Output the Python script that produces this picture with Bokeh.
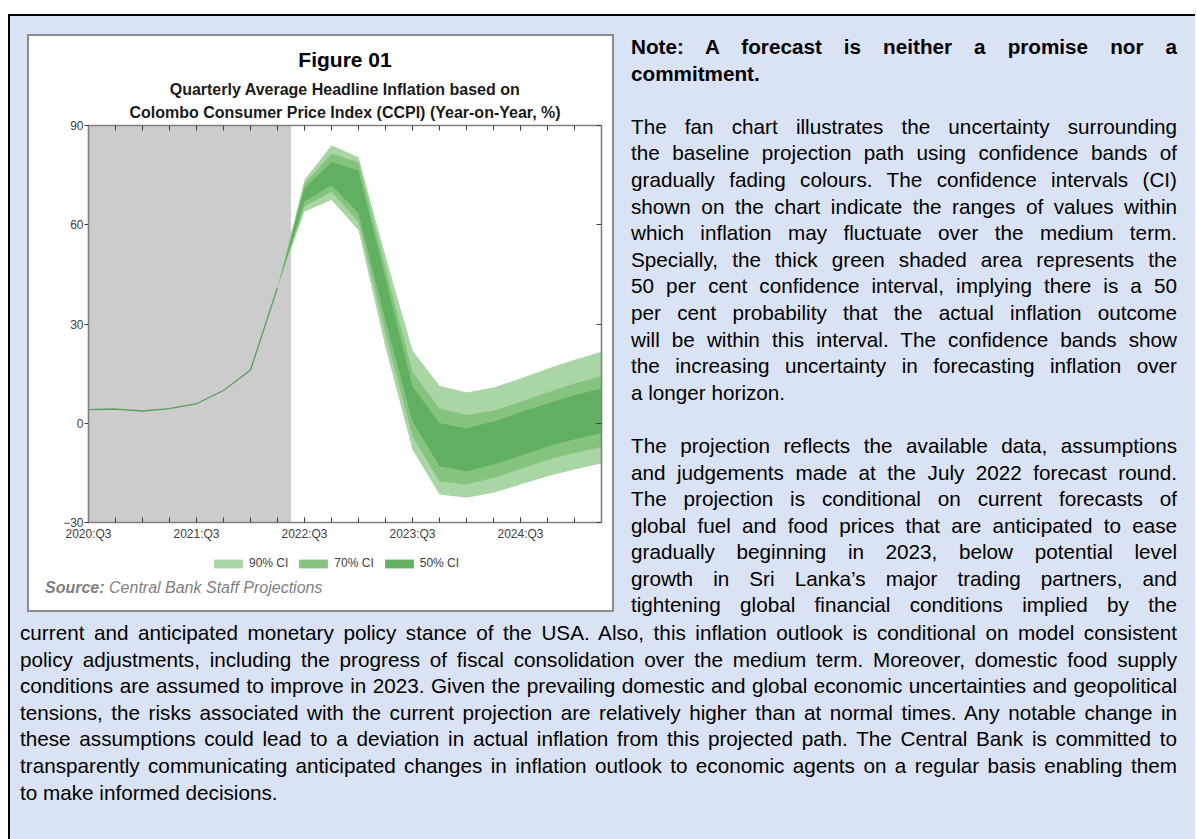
from bokeh.plotting import figure
from bokeh.models import (Range1d, LinearAxis, FixedTicker, Legend, LegendItem,
                          Title, BoxAnnotation, Div)
from bokeh.layouts import column, row
from bokeh.embed import file_html
from bokeh.resources import INLINE

# ---------------- data ----------------
quarters = ["2020:Q3", "2020:Q4", "2021:Q1", "2021:Q2", "2021:Q3", "2021:Q4",
            "2022:Q1", "2022:Q2", "2022:Q3", "2022:Q4", "2023:Q1", "2023:Q2",
            "2023:Q3", "2023:Q4", "2024:Q1", "2024:Q2", "2024:Q3", "2024:Q4",
            "2025:Q1", "2025:Q2"]
history_values = [4.1, 4.3, 3.7, 4.4, 5.9, 9.9, 16.1, 41.0]          # 2020:Q3 .. 2022:Q2
# fan from 2022:Q2 .. 2025:Q2
ci90_low  = [41, 64.0, 67.5, 58.3, 23.0, -8.0, -21.5, -22.5, -21.0, -18.5, -16.0, -14.0, -12.2]
ci70_low  = [41, 65.5, 70.0, 60.8, 27.0, -4.0, -17.5, -18.5, -16.5, -13.8, -11.0, -9.0, -7.2]
ci50_low  = [41, 67.0, 72.0, 63.4, 31.0, 0.5, -13.0, -14.5, -12.5, -9.8, -7.0, -4.8, -3.0]
ci50_high = [41, 71.0, 79.0, 76.4, 44.0, 11.0, 0.0, -1.5, 0.5, 3.3, 6.0, 8.5, 10.5]
ci70_high = [41, 72.5, 81.5, 78.9, 47.0, 15.5, 4.5, 2.5, 3.8, 6.5, 9.3, 12.0, 14.3]
ci90_high = [41, 73.5, 84.0, 80.4, 50.5, 22.0, 11.3, 9.3, 10.8, 13.5, 16.5, 19.2, 21.6]
y_ticks = [-30, 0, 30, 60, 90]
legend_labels = ["90% CI", "70% CI", "50% CI"]

FONT = "Liberation Sans"
C90, C70, C50 = "#aad6a5", "#84c47f", "#61b061"
AXIS_GRAY = "#808080"
TXT_GRAY = "#404040"

n_hist = len(history_values)
x_hist = list(range(n_hist))
fan_start = n_hist - 1
x_fan = list(range(fan_start, fan_start + len(ci90_high)))
label_every = 4
bands = [(ci90_low, ci90_high, C90), (ci70_low, ci70_high, C70), (ci50_low, ci50_high, C50)]

# ---------------- chart ----------------
p = figure(width=583, height=507,
           x_range=Range1d(0, len(quarters) - 1),
           y_range=Range1d(y_ticks[0], y_ticks[-1]),
           x_axis_type=None, y_axis_type=None,
           output_backend="svg", toolbar_location=None,
           min_border_left=59, min_border_right=11,
           min_border_top=89, min_border_bottom=20)
p.outline_line_color = None
p.border_fill_color = "white"
p.background_fill_color = "white"
p.xgrid.visible = False
p.ygrid.visible = False

p.add_layout(BoxAnnotation(left=0, right=fan_start + 0.5, fill_color="#cccccc",
                           fill_alpha=1, line_color=None, level="underlay"))

p.line(x_hist, history_values, line_color="#5a9e5a", line_width=1.3)
for lo, hi, col in bands:
    p.varea(x=x_fan, y1=lo, y2=hi, fill_color=col)

major_x = list(range(0, len(quarters), label_every))
minor_x = list(range(len(quarters)))

def style_axis(ax):
    ax.axis_line_color = AXIS_GRAY
    ax.axis_line_width = 1.6
    ax.major_tick_line_color = TXT_GRAY
    ax.minor_tick_line_color = TXT_GRAY
    ax.major_label_text_font = FONT
    ax.major_label_text_font_size = "12px"
    ax.major_label_text_color = TXT_GRAY

xb = LinearAxis(ticker=FixedTicker(ticks=major_x, minor_ticks=minor_x))
style_axis(xb)
xb.major_tick_in, xb.major_tick_out = 5, 0
xb.minor_tick_in, xb.minor_tick_out = 5, 0
xb.major_label_standoff = 4
xb.major_label_overrides = {i: quarters[i] for i in major_x}
p.add_layout(xb, "below")

xt = LinearAxis(ticker=FixedTicker(ticks=major_x, minor_ticks=minor_x))
style_axis(xt)
xt.major_tick_in, xt.major_tick_out = 5, 0
xt.minor_tick_in, xt.minor_tick_out = 5, 0
xt.major_label_overrides = {i: "" for i in major_x}
xt.major_label_standoff = 0
p.add_layout(xt, "above")

yl = LinearAxis(ticker=FixedTicker(ticks=y_ticks))
style_axis(yl)
yl.major_tick_in, yl.major_tick_out = 0, 4
yl.minor_tick_line_color = None
yl.major_label_standoff = 1
p.add_layout(yl, "left")

yr = LinearAxis(ticker=FixedTicker(ticks=y_ticks))
style_axis(yr)
yr.major_tick_in, yr.major_tick_out = 5, 0
yr.minor_tick_line_color = None
yr.major_label_overrides = {t: "" for t in y_ticks}
yr.major_label_standoff = 0
p.add_layout(yr, "right")

def add_title(text, size, standoff, color):
    p.add_layout(Title(text=text, align="center", text_font=FONT,
                       text_font_size=size, text_font_style="bold",
                       text_color=color, standoff=standoff), "above")

# added closest-to-plot first
add_title("Colombo Consumer Price Index (CCPI) (Year-on-Year, %)", "16px", 9, "#1a1a1a")
add_title("Quarterly Average Headline Inflation based on", "16px", 0, "#1a1a1a")
add_title("Figure 01", "21px", 16, "black")

# ---------------- legend strip (same bands, outside its visible range) ----------------
lg = figure(width=583, height=35, x_range=Range1d(-2, -1), y_range=Range1d(0, 1),
            x_axis_type=None, y_axis_type=None, output_backend="svg",
            toolbar_location=None, min_border=0)
lg.outline_line_color = None
lg.border_fill_color = "white"
lg.background_fill_color = "white"
lg.xgrid.visible = False
lg.ygrid.visible = False
lr = [lg.varea(x=x_fan, y1=lo, y2=hi, fill_color=col) for lo, hi, col in bands]
legend = Legend(items=[LegendItem(label=lab, renderers=[r]) for lab, r in zip(legend_labels, lr)],
                orientation="horizontal", location=(122, 8),
                glyph_width=36, glyph_height=11, label_standoff=3, spacing=7,
                padding=0, margin=0, border_line_color=None,
                background_fill_alpha=0, label_text_font=FONT,
                label_text_font_size="12px", label_text_color=TXT_GRAY,
                label_height=11)
lg.add_layout(legend)

source_div = Div(text='<div style="font-family:\'Liberation Sans\',Arial,sans-serif;'
                      'font-size:16px;line-height:20px;color:#7f7f7f;font-style:italic;'
                      'white-space:nowrap;"><b>Source:</b> Central Bank Staff Projections</div>',
                 width=400, height=32, margin=(0, 0, 0, 16))

chart_box = column(p, lg, source_div, margin=(18, 0, 0, 17),
                   styles={"border": "2px solid #8c8c8c", "background-color": "white",
                           "flex-shrink": "0"})

# ---------------- text ----------------
LH = 26.6
right_lines = [
    ("Note: A forecast is neither a promise nor a", "jb"),
    ("commitment.", "lb"),
    ("", "gap"),
    ("The fan chart illustrates the uncertainty surrounding", "j"),
    ("the baseline projection path using confidence bands of", "j"),
    ("gradually fading colours. The confidence intervals (CI)", "j"),
    ("shown on the chart indicate the ranges of values within", "j"),
    ("which inflation may fluctuate over the medium term.", "j"),
    ("Specially, the thick green shaded area represents the", "j"),
    ("50 per cent confidence interval, implying there is a 50", "j"),
    ("per cent probability that the actual inflation outcome", "j"),
    ("will be within this interval. The confidence bands show", "j"),
    ("the increasing uncertainty in forecasting inflation over", "j"),
    ("a longer horizon.", "l"),
    ("", "gap"),
    ("The projection reflects the available data, assumptions", "j"),
    ("and judgements made at the July 2022 forecast round.", "j"),
    ("The projection is conditional on current forecasts of", "j"),
    ("global fuel and food prices that are anticipated to ease", "j"),
    ("gradually beginning in 2023, below potential level", "j"),
    ("growth in Sri Lanka\u2019s major trading partners, and", "j"),
    ("tightening global financial conditions implied by the", "j"),
]
bottom_lines = [
    ("current and anticipated monetary policy stance of the USA. Also, this inflation outlook is conditional on model consistent", "j"),
    ("policy adjustments, including the progress of fiscal consolidation over the medium term. Moreover, domestic food supply", "j"),
    ("conditions are assumed to improve in 2023. Given the prevailing domestic and global economic uncertainties and geopolitical", "j"),
    ("tensions, the risks associated with the current projection are relatively higher than at normal times. Any notable change in", "j"),
    ("these assumptions could lead to a deviation in actual inflation from this projected path. The Central Bank is committed to", "j"),
    ("transparently communicating anticipated changes in inflation outlook to economic agents on a regular basis enabling them", "j"),
    ("to make informed decisions.", "l"),
]

def block(lines, width):
    out = ['<div style="font-family:\'Liberation Sans\',Arial,sans-serif;font-size:20.7px;'
           'line-height:%spx;color:#000;margin:0;padding:0;width:%dpx;box-sizing:content-box;">'
           % (LH, width)]
    for txt, kind in lines:
        if kind == "gap":
            out.append('<div style="height:%spx"></div>' % LH)
            continue
        st = "height:%spx;margin:0;padding:0;width:%dpx;" % (LH, width)
        if kind.startswith("j"):
            st += "text-align:justify;text-align-last:justify;"
        else:
            st += "text-align:left;"
        if kind.endswith("b"):
            st += "font-weight:bold;"
        out.append('<div style="%s">%s</div>' % (st, txt))
    out.append("</div>")
    return "".join(out)

right_div = Div(text=block(right_lines, 546), width=546, height=586, margin=(18, 0, 0, 17),
                styles={"flex-shrink": "0", "overflow": "visible", "min-width": "546px"})
bottom_div = Div(text=block(bottom_lines, 1157), width=1157, height=187, margin=(0, 0, 32, 10),
                 styles={"flex-shrink": "0", "overflow": "visible", "min-width": "1157px"})

page = column(row(chart_box, right_div, styles={"flex-shrink": "0"}), bottom_div,
              margin=(14, 0, 0, 8),
              styles={"background-color": "#dae3f3", "border-left": "2px solid #000",
                      "border-top": "2px solid #000", "width": "1187px"})

open("out.html", "w", encoding="utf-8").write(file_html(page, INLINE))
